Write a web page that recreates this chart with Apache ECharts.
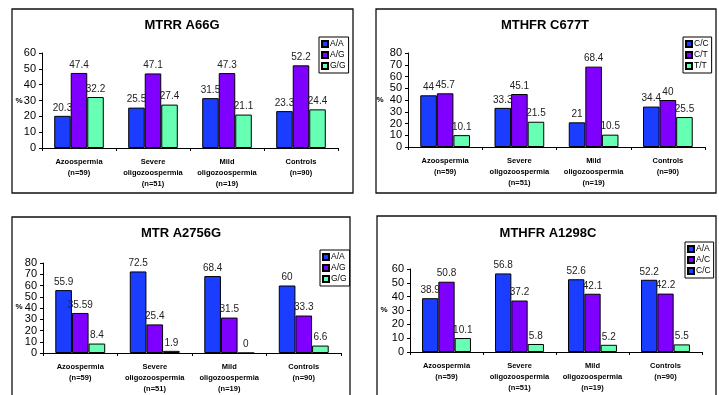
<!DOCTYPE html>
<html><head><meta charset="utf-8">
<script src="https://cdn.jsdelivr.net/npm/echarts@6/dist/echarts.min.js"></script>
<style>html,body{margin:0;padding:0;background:#fff}#c{width:719px;height:395px}</style>
</head><body><div id="c"></div>
<script>
const categories = ["Azoospermia\n(n=59)", "Severe\noligozoospermia\n(n=51)", "Mild\noligozoospermia\n(n=19)", "Controls\n(n=90)"];

const titles = ["MTRR A66G", "MTHFR C677T", "MTR A2756G", "MTHFR A1298C"];

const mtrrNames = ["A/A", "A/G", "G/G"];
const mtrrAA = [20.3, 25.5, 31.5, 23.3];
const mtrrAG = [47.4, 47.1, 47.3, 52.2];
const mtrrGG = [32.2, 27.4, 21.1, 24.4];

const c677Names = ["C/C", "C/T", "T/T"];
const c677CC = [44, 33.3, 21, 34.4];
const c677CT = [45.7, 45.1, 68.4, 40];
const c677TT = [10.1, 21.5, 10.5, 25.5];

const mtrNames = ["A/A", "A/G", "G/G"];
const mtrAA = [55.9, 72.5, 68.4, 60];
const mtrAG = [35.59, 25.4, 31.5, 33.3];
const mtrGG = [8.4, 1.9, 0, 6.6];

const a1298Names = ["A/A", "A/C", "C/C"];
const a1298AA = [38.9, 56.8, 52.6, 52.2];
const a1298AC = [50.8, 37.2, 42.1, 42.2];
const a1298CC = [10.1, 5.8, 5.2, 5.5];

const yMax = [60, 80, 80, 60];

const panels = [
  {names: mtrrNames, data: [mtrrAA, mtrrAG, mtrrGG]},
  {names: c677Names, data: [c677CC, c677CT, c677TT]},
  {names: mtrNames, data: [mtrAA, mtrAG, mtrGG]},
  {names: a1298Names, data: [a1298AA, a1298AC, a1298CC]}
];

const colors = ['#1a3dff', '#8000ff', '#66ffb3'];
const FONT = 'Liberation Sans, Arial, sans-serif';

const layout = [
  {grid: {left: 42, top: 53, width: 296, height: 95}, box: {x: 12, y: 9, width: 341, height: 184}, title: [182, 25], pct: [19, 101], legend: {left: 319, top: 37}},
  {grid: {left: 408, top: 53, width: 297, height: 94}, box: {x: 376, y: 9, width: 340, height: 184}, title: [545, 25], pct: [380, 100], legend: {left: 683, top: 37}},
  {grid: {left: 43, top: 263, width: 298, height: 90}, box: {x: 12, y: 217, width: 338, height: 200}, title: [181, 233], pct: [19, 307], legend: {left: 320, top: 250}},
  {grid: {left: 410, top: 269, width: 292, height: 83}, box: {x: 377, y: 216, width: 339, height: 200}, title: [548, 233], pct: [384, 310], legend: {left: 685, top: 242}}
];

const grids = [], xAxes = [], yAxes = [], series = [], legends = [], graphics = [];
layout.forEach((L, i) => {
  graphics.push({type: 'rect', shape: L.box, style: {fill: '#fff', stroke: '#111', lineWidth: 1.3}, z: -10});
  graphics.push({type: 'text', x: L.title[0], y: L.title[1], style: {text: titles[i], font: 'bold 13px ' + FONT, fill: '#000', align: 'center', verticalAlign: 'middle'}});
  graphics.push({type: 'text', x: L.pct[0], y: L.pct[1], style: {text: '%', font: 'bold 8px ' + FONT, fill: '#000', align: 'center', verticalAlign: 'middle'}});
  grids.push(Object.assign({containLabel: false}, L.grid));
  xAxes.push({
    type: 'category', gridIndex: i, data: categories,
    axisLine: {lineStyle: {color: '#000', width: 1}},
    axisTick: {show: true, length: 3, lineStyle: {color: '#000'}},
    axisLabel: {interval: 0, color: '#000', fontFamily: FONT, fontWeight: 'bold', fontSize: 7.5, lineHeight: 11, margin: 8}
  });
  yAxes.push({
    type: 'value', gridIndex: i, min: 0, max: yMax[i], interval: 10,
    splitLine: {show: false},
    axisLine: {show: true, lineStyle: {color: '#000', width: 1}},
    axisTick: {show: true, length: 3, lineStyle: {color: '#000'}},
    axisLabel: {color: '#000', fontFamily: FONT, fontSize: 11, margin: 6}
  });
  const P = panels[i];
  P.names.forEach((nm, k) => {
    series.push({
      type: 'bar', name: nm, xAxisIndex: i, yAxisIndex: i, data: P.data[k],
      barGap: '0%', barCategoryGap: '33%',
      itemStyle: {color: colors[k], borderColor: '#000', borderWidth: 1},
      label: {show: true, position: 'top', distance: 3, color: '#222', fontFamily: FONT, fontSize: 10},
      emphasis: {disabled: true}, animation: false
    });
  });
  legends.push({
    orient: 'vertical', left: L.legend.left, top: L.legend.top,
    data: P.names.map(n => ({name: n, icon: 'rect'})),
    padding: [2, 3, 2, 2], itemWidth: 6, itemHeight: 6, itemGap: 1,
    borderColor: '#000', borderWidth: 1, backgroundColor: '#fff',
    textStyle: {fontFamily: FONT, fontSize: 8.5, color: '#000', lineHeight: 10, padding: [0, 0, 0, -3]},
    selectedMode: false
  });
});

const chart = echarts.init(document.getElementById('c'), null, {renderer: 'canvas'});
chart.setOption({
  animation: false,
  color: colors,
  grid: grids, xAxis: xAxes, yAxis: yAxes, series: series, legend: legends,
  graphic: graphics
});
</script></body></html>
